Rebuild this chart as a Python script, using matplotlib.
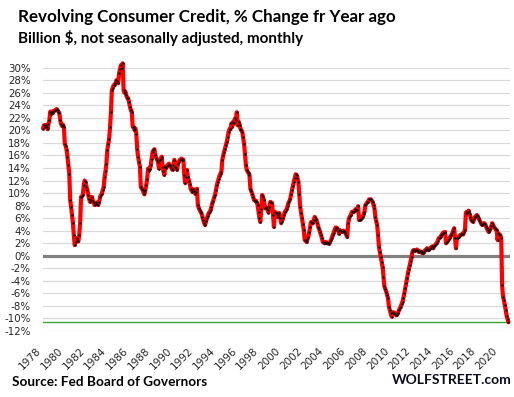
import matplotlib
matplotlib.use('Agg')
import matplotlib.pyplot as plt
from matplotlib.transforms import ScaledTranslation
import numpy as np

# ---- data: revolving consumer credit, % change from year ago (monthly, Jan 1978 - Nov 2020)
start_year = 1978
y1978 = [20.3, 20.8, 20.6, 20.9, 20.5, 20.2, 21.0, 21.6, 23.0, 22.6, 23.0, 22.8]
y1979 = [23.1, 23.2, 23.3, 23.4, 23.2, 23.0, 22.8, 21.6, 21.0, 20.7, 20.9, 20.6]
y1980 = [17.9, 17.5, 16.9, 15.8, 14.5, 13.1, 8.9, 7.8, 6.5, 5.2, 3.3, 1.7]
y1981 = [2.2, 2.8, 2.5, 2.3, 3.3, 5.2, 9.4, 9.5, 9.7, 11.3, 12.0, 11.7]
y1982 = [11.0, 10.5, 9.7, 9.0, 8.6, 8.9, 9.4, 8.8, 8.4, 8.1, 8.3, 8.5]
y1983 = [8.2, 8.1, 8.6, 9.4, 9.7, 9.9, 10.5, 11.0, 12.6, 13.5, 14.7, 16.9]
y1984 = [17.8, 18.7, 20.5, 23.0, 26.4, 26.8, 27.2, 27.3, 27.5, 28.0, 27.8, 27.5]
y1985 = [29.1, 29.8, 30.4, 30.0, 30.7, 26.4, 26.0, 26.2, 25.6, 25.2, 25.1, 24.5]
y1986 = [23.8, 23.2, 23.0, 20.6, 20.5, 20.1, 20.3, 19.5, 17.0, 15.8, 15.0, 14.2]
y1987 = [11.0, 10.7, 10.5, 10.1, 9.8, 10.5, 11.3, 12.3, 13.9, 13.6, 13.8, 14.5]
y1988 = [15.5, 16.6, 16.8, 17.0, 16.1, 15.6, 15.3, 15.0, 13.9, 15.3, 15.5, 15.8]
y1989 = [14.2, 13.5, 12.9, 14.2, 14.0, 14.3, 14.5, 14.7, 14.4, 14.2, 13.9, 13.7]
y1990 = [14.5, 15.3, 14.2, 14.0, 13.7, 14.7, 15.0, 15.3, 15.4, 15.5, 15.3, 15.3]
y1991 = [12.9, 11.6, 12.5, 13.7, 12.6, 12.0, 11.5, 10.7, 10.4, 10.2, 10.6, 10.3]
y1992 = [9.9, 10.2, 10.7, 8.1, 7.6, 7.3, 7.0, 6.8, 6.2, 5.7, 5.2, 4.9]
y1993 = [5.5, 6.0, 6.4, 6.8, 7.0, 7.3, 7.8, 8.4, 8.8, 9.3, 9.7, 10.5]
y1994 = [11.3, 11.8, 12.3, 12.8, 13.1, 13.4, 15.3, 16.0, 16.6, 17.1, 17.7, 18.2]
y1995 = [19.0, 19.8, 20.2, 20.2, 21.1, 20.6, 21.4, 21.1, 21.9, 21.7, 22.9, 20.8]
y1996 = [21.4, 20.9, 20.3, 20.0, 19.8, 18.9, 17.9, 16.3, 14.5, 13.7, 13.4, 13.2]
y1997 = [12.9, 10.7, 10.3, 9.9, 9.4, 8.9, 8.8, 8.8, 8.5, 8.1, 7.0, 6.0]
y1998 = [5.4, 7.5, 9.7, 9.3, 8.9, 7.6, 7.7, 7.5, 7.3, 6.9, 7.8, 8.6]
y1999 = [8.5, 8.4, 6.5, 4.6, 7.0, 6.9, 6.8, 6.2, 6.5, 6.8, 6.0, 5.2]
y2000 = [5.6, 6.0, 6.5, 7.0, 7.2, 7.4, 7.9, 8.4, 8.7, 9.1, 9.8, 10.5]
y2001 = [11.2, 11.8, 12.4, 13.0, 12.9, 12.4, 11.8, 9.8, 7.8, 6.9, 6.0, 5.0]
y2002 = [4.1, 2.5, 2.4, 2.2, 2.6, 3.0, 3.8, 4.6, 5.4, 5.3, 5.2, 5.7]
y2003 = [6.2, 5.9, 5.7, 5.2, 4.6, 4.2, 3.8, 3.3, 2.8, 2.2, 2.1, 2.0]
y2004 = [2.2, 2.1, 2.0, 2.0, 1.9, 2.2, 2.5, 2.9, 3.3, 3.7, 4.1, 4.5]
y2005 = [4.5, 4.4, 4.0, 3.5, 4.1, 3.9, 3.8, 3.9, 4.0, 3.8, 3.6, 3.3]
y2006 = [3.0, 5.2, 6.0, 6.3, 6.5, 7.0, 7.0, 7.0, 7.2, 7.4, 7.3, 7.3]
y2007 = [7.9, 5.7, 5.7, 5.8, 6.0, 6.2, 6.6, 7.0, 8.1, 8.3, 8.5, 8.6]
y2008 = [9.0, 9.0, 9.0, 8.8, 8.6, 8.1, 7.6, 6.2, 5.5, 4.9, 3.3, 1.4]
y2009 = [0.6, -0.2, -1.0, -1.8, -3.4, -4.9, -5.3, -5.7, -6.2, -6.8, -8.1, -8.7]
y2010 = [-9.2, -9.7, -9.2, -9.0, -9.1, -9.3, -9.5, -9.4, -9.2, -8.7, -8.4, -8.1]
y2011 = [-7.7, -7.3, -6.7, -6.0, -5.2, -4.4, -3.6, -2.8, -2.1, -1.5, -0.8, -0.2]
y2012 = [0.6, 0.9, 0.9, 0.8, 0.9, 1.0, 0.8, 0.6, 0.7, 0.7, 0.5, 0.6]
y2013 = [0.4, 0.6, 0.9, 1.0, 1.2, 1.0, 0.9, 1.1, 1.3, 1.4, 1.5, 1.2]
y2014 = [1.5, 1.7, 1.9, 2.0, 2.4, 2.8, 2.9, 3.0, 3.3, 3.5, 3.7, 3.7]
y2015 = [3.8, 2.0, 2.2, 2.4, 2.6, 2.8, 3.1, 3.3, 3.6, 4.0, 4.4, 2.8]
y2016 = [1.2, 2.8, 2.9, 3.0, 3.2, 3.3, 3.4, 3.5, 3.4, 3.8, 4.1, 6.9]
y2017 = [7.0, 7.0, 7.2, 6.7, 6.2, 5.7, 5.5, 5.4, 5.8, 6.2, 6.3, 6.5]
y2018 = [6.3, 6.0, 5.7, 5.4, 5.1, 4.9, 5.0, 5.2, 5.1, 4.8, 4.4, 4.1]
y2019 = [3.8, 4.0, 4.2, 4.7, 5.2, 4.9, 4.6, 4.4, 4.2, 4.1, 2.5, 3.6]
y2020 = [3.4, 3.3, 2.8, -4.7, -6.5, -7.1, -7.9, -8.7, -9.6, -10.1, -10.6]

values = (y1978 + y1979 + y1980 + y1981 + y1982 + y1983 + y1984 + y1985 + y1986 +
          y1987 + y1988 + y1989 + y1990 + y1991 + y1992 + y1993 + y1994 + y1995 +
          y1996 + y1997 + y1998 + y1999 + y2000 + y2001 + y2002 + y2003 + y2004 +
          y2005 + y2006 + y2007 + y2008 + y2009 + y2010 + y2011 + y2012 + y2013 +
          y2014 + y2015 + y2016 + y2017 + y2018 + y2019 + y2020)
current_level = -10.6
year_ticks = list(range(1978, 2021, 2))
pct_ticks = list(range(-12, 31, 2))

W, H = 514, 397
fig = plt.figure(figsize=(W / 100, H / 100), dpi=100)
fig.patch.set_facecolor('white')

ax_l, ax_r, ax_t, ax_b = 42.7, 509.5, 67.7, 331.0
ax = fig.add_axes([ax_l / W, 1 - ax_b / H, (ax_r - ax_l) / W, (ax_b - ax_t) / H])

xs = np.array([start_year + i / 12 for i in range(len(values))])
ax.set_xlim(1977.97, 2020.93)
ax.set_ylim(-12, 30)

for v in pct_ticks:
    if v != 0:
        ax.axhline(v, color='#d9d9d9', lw=0.9, zorder=0)
ax.axhline(0, color='#808080', lw=2.3, zorder=1)
ax.axhline(current_level, color='#3aa53a', lw=1.0, zorder=1)

ax.plot(xs, values, color='#ff0000', lw=3.0, zorder=3, clip_on=False,
        solid_joinstyle='round', solid_capstyle='round')
ax.plot(xs, values, linestyle='none', marker='o', ms=1.7, mfc='#111111',
        mec='none', zorder=4, clip_on=False)

for s in ax.spines.values():
    s.set_visible(False)

ax.set_yticks(pct_ticks)
ax.set_yticklabels([f"{v}%" for v in pct_ticks], fontsize=7.4, color='#262626',
                   family='DejaVu Sans')
ax.set_xticks(year_ticks)
ax.set_xticklabels([str(y) for y in year_ticks], fontsize=7.5, color='#262626',
                   family='DejaVu Sans', rotation=45, ha='right', va='center',
                   rotation_mode='anchor')
ax.tick_params(axis='y', length=0, pad=8.5)
ax.tick_params(axis='x', length=0, pad=13)
for lab in ax.get_xticklabels():
    lab.set_transform(lab.get_transform() + ScaledTranslation(-2.5 / 72, 0, fig.dpi_scale_trans))

renderer = fig.canvas.get_renderer()


def fit_text(x_px, base_px, s, width_px, family='Lato', color='black'):
    t = fig.text(x_px / W, 1 - base_px / H, s, fontsize=10, fontweight='bold',
                 family=family, ha='left', va='baseline', color=color)
    w = t.get_window_extent(renderer=renderer).width
    t.set_fontsize(10 * width_px / w)
    return t


fit_text(18, 21.7, "Revolving Consumer Credit, % Change fr Year ago", 379)
fit_text(18, 42.7, "Billion $, not seasonally adjusted, monthly", 285)
fit_text(12, 386, "Source: Fed Board of Governors", 195)
fit_text(392, 384, "WOLFSTREET.com", 120, color='#0a0a1e')

fig.savefig('out.png', dpi=100, facecolor='white')
